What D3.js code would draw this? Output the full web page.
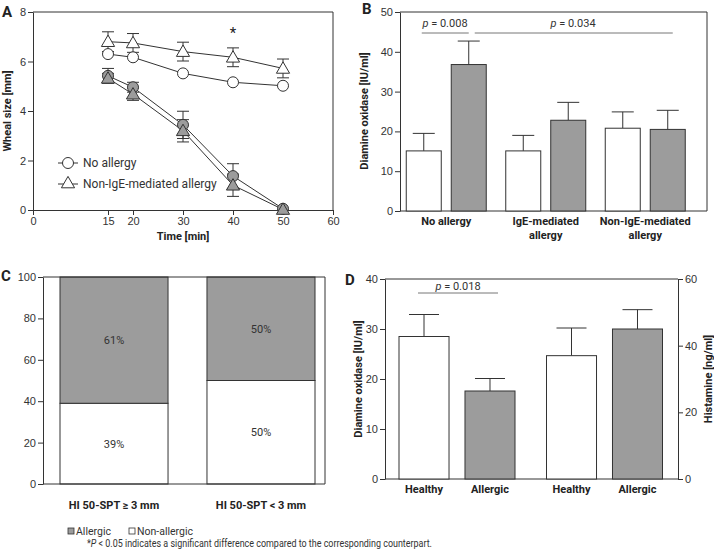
<!DOCTYPE html>
<html>
<head>
<meta charset="utf-8">
<script src="https://cdn.jsdelivr.net/npm/d3@7"></script>
<style>
html,body{margin:0;padding:0;background:#fff;}
svg{display:block;font-family:Roboto, "Noto Sans", sans-serif;}
.tick text{fill:#333;font-size:11px;}
.tick line,.domain{stroke:#333;}
</style>
</head>
<body>
<svg id="c" width="714" height="557"></svg>
<script>
// ---------- Panel A data ----------
const timesA = [15, 20, 30, 40, 50];
const xTicksA = [0, 15, 20, 30, 40, 50, 60];
const yTicksA = [0, 2, 4, 6, 8];
const noAllergyOpen = [6.3, 6.17, 5.52, 5.16, 5.02];
const noAllergyOpenErr = [0, 0, 0, 0, 0];
const nonIgEOpen = [6.8, 6.75, 6.4, 6.17, 5.72];
const nonIgEOpenErr = [0.4, 0.38, 0.38, 0.38, 0.38];
const noAllergyGray = [5.42, 4.96, 3.44, 1.37, 0.05];
const noAllergyGrayErr = [0.3, 0.2, 0.55, 0.5, 0];
const nonIgEGray = [5.32, 4.68, 3.2, 1.0, 0.02];
const nonIgEGrayErr = [0.2, 0.25, 0.45, 0.45, 0];
const legendA = ["No allergy", "Non-IgE-mediated allergy"];

// ---------- Panel B data ----------
const groupsB = ["No allergy", "IgE-mediated allergy", "Non-IgE-mediated allergy"];
const groupLabelsB = [["No allergy"], ["IgE-mediated", "allergy"], ["Non-IgE-mediated", "allergy"]];
const daoNonAllergicB = [15.1, 15.1, 20.8];
const daoNonAllergicErrB = [4.4, 3.9, 4.1];
const daoAllergicB = [36.8, 22.8, 20.5];
const daoAllergicErrB = [5.9, 4.5, 4.8];
const yTicksB = [0, 10, 20, 30, 40, 50];

// ---------- Panel C data ----------
const groupsC = ["HI 50-SPT \u2265 3 mm", "HI 50-SPT < 3 mm"];
const nonAllergicC = [39, 50];
const allergicC = [61, 50];
const yTicksC = [0, 20, 40, 60, 80, 100];

// ---------- Panel D data ----------
const measuresD = ["Diamine oxidase", "Histamine"];
const statusD = ["Healthy", "Allergic"];
const daoD = [28.5, 17.6];
const daoErrD = [4.4, 2.5];
const histamineD = [37, 45];
const histamineErrD = [8.3, 5.8];
const yTicksDLeft = [0, 10, 20, 30, 40];
const yTicksDRight = [0, 20, 40, 60];

const legendLabels = ["Allergic", "Non-allergic"];
const footnote = "P < 0.05 indicates a significant difference compared to the corresponding counterpart.";

const GRAY = "#9c9c9c";
const STROKE = "#333";
const svg = d3.select("#c");

function frame(g, x0, x1, y0, y1) {
  g.append("path").attr("d", `M${x0},${y1}H${x1}V${y0}`).attr("fill", "none").attr("stroke", STROKE);
}
function label(g, txt, x, y, opts = {}) {
  const t = g.append("text").attr("x", x).attr("y", y).text(txt)
    .attr("fill", opts.fill || "#222").attr("font-size", opts.size || 11)
    .attr("text-anchor", opts.anchor || "middle");
  if (opts.bold) t.attr("font-weight", "bold");
  if (opts.rotate) t.attr("transform", `rotate(${opts.rotate},${x},${y})`);
  return t;
}
function pText(g, val, x, y) {
  const t = g.append("text").attr("x", x).attr("y", y).attr("text-anchor", "middle")
    .attr("font-size", 11).attr("fill", "#333");
  t.append("tspan").attr("font-style", "italic").text("p");
  t.append("tspan").text(" = " + val);
}
function errBar(g, x, yv, ye, w) {
  g.append("line").attr("x1", x).attr("x2", x).attr("y1", yv).attr("y2", ye).attr("stroke", STROKE);
  g.append("line").attr("x1", x - w).attr("x2", x + w).attr("y1", ye).attr("y2", ye).attr("stroke", STROKE);
}

// ================= Panel A =================
{
  const g = svg.append("g");
  const x = d3.scaleLinear().domain([0, 60]).range([33, 333]);
  const y = d3.scaleLinear().domain([0, 8]).range([210, 12]);
  g.append("g").attr("transform", "translate(0,210)")
    .call(d3.axisBottom(x).tickValues(xTicksA).tickSize(5).tickSizeOuter(0).tickPadding(2));
  g.append("g").attr("transform", "translate(33,0)")
    .call(d3.axisLeft(y).tickValues(yTicksA).tickSize(5).tickSizeOuter(0).tickPadding(2));
  frame(g, 33, 333, 210, 12);

  const series = [
    {v: noAllergyGray, e: noAllergyGrayErr, shape: "circle", fill: GRAY, both: true},
    {v: nonIgEGray, e: nonIgEGrayErr, shape: "triangle", fill: GRAY, both: true},
    {v: noAllergyOpen, e: noAllergyOpenErr, shape: "circle", fill: "#fff", both: false},
    {v: nonIgEOpen, e: nonIgEOpenErr, shape: "triangle", fill: "#fff", both: true}
  ];
  const line = d3.line().x((d, i) => x(timesA[i])).y(d => y(d));
  series.forEach(s => {
    s.v.forEach((v, i) => {
      if (s.e[i] > 0) {
        errBar(g, x(timesA[i]), y(v), y(v + s.e[i]), 6);
        if (s.both) errBar(g, x(timesA[i]), y(v), y(Math.max(0, v - s.e[i])), 6);
      }
    });
  });
  series.forEach(s => {
    g.append("path").datum(s.v).attr("d", line).attr("fill", "none").attr("stroke", STROKE).attr("stroke-width", 1);
  });
  const tri = d3.symbol().type(d3.symbolTriangle).size(75);
  series.forEach(s => {
    s.v.forEach((v, i) => {
      if (s.shape === "circle") {
        g.append("circle").attr("cx", x(timesA[i])).attr("cy", y(v)).attr("r", 5.5)
          .attr("fill", s.fill).attr("stroke", STROKE);
      } else {
        g.append("path").attr("d", tri).attr("transform", `translate(${x(timesA[i])},${y(v) + 1})`)
          .attr("fill", s.fill).attr("stroke", STROKE);
      }
    });
  });
  label(g, "*", x(40), 38, {size: 15, fill: "#222"});
  // legend
  g.append("line").attr("x1", 58).attr("x2", 78).attr("y1", 163).attr("y2", 163).attr("stroke", STROKE);
  g.append("circle").attr("cx", 68).attr("cy", 163).attr("r", 5.5).attr("fill", "#fff").attr("stroke", STROKE);
  g.append("line").attr("x1", 58).attr("x2", 78).attr("y1", 184).attr("y2", 184).attr("stroke", STROKE);
  g.append("path").attr("d", tri).attr("transform", "translate(68,184)").attr("fill", "#fff").attr("stroke", STROKE);
  label(g, legendA[0], 83, 167, {anchor: "start", size: 12, fill: "#333"});
  label(g, legendA[1], 83, 188, {anchor: "start", size: 12, fill: "#333"});
  label(g, "Wheal size [mm]", 11, 111, {bold: true, rotate: -90});
  label(g, "Time [min]", 183, 240, {bold: true});
  label(g, "A", 2, 17, {anchor: "start", bold: true, size: 15, fill: "#222"});
}

// ================= Panel B =================
{
  const g = svg.append("g");
  const y = d3.scaleLinear().domain([0, 50]).range([211, 12]);
  const xg = d3.scaleBand().domain(groupsB).range([396.5, 695]).paddingInner(0).paddingOuter(0);
  const xi = d3.scaleBand().domain(["n", "a"]).range([9.75, 89.75]).paddingInner(0.222).paddingOuter(0);
  g.append("g").attr("transform", "translate(400,0)")
    .call(d3.axisLeft(y).tickValues(yTicksB).tickSize(5).tickSizeOuter(0).tickPadding(2));
  g.append("line").attr("x1", 400).attr("x2", 707).attr("y1", 211).attr("y2", 211).attr("stroke", STROKE);
  frame(g, 400, 707, 211, 12);
  const bw = xi.bandwidth();
  groupsB.forEach((grp, i) => {
    [["n", daoNonAllergicB, daoNonAllergicErrB, "#fff"], ["a", daoAllergicB, daoAllergicErrB, GRAY]].forEach(([k, vals, errs, fill]) => {
      const bx = xg(grp) + xi(k);
      errBar(g, bx + bw / 2, y(vals[i]), y(vals[i] + errs[i]), 11);
      g.append("rect").attr("x", bx).attr("y", y(vals[i])).attr("width", bw).attr("height", y(0) - y(vals[i]))
        .attr("fill", fill).attr("stroke", STROKE);
    });
    groupLabelsB[i].forEach((ln, j) => label(g, ln, xg(grp) + xg.bandwidth() / 2, 225 + j * 14, {bold: true}));
  });
  const cx = (grp, k) => xg(grp) + xi(k) + bw / 2;
  g.append("line").attr("x1", cx(groupsB[0], "n") - 2).attr("x2", cx(groupsB[0], "a")).attr("y1", 33).attr("y2", 33).attr("stroke", "#777");
  g.append("line").attr("x1", cx(groupsB[0], "a") + 6).attr("x2", cx(groupsB[2], "n") + 50).attr("y1", 33).attr("y2", 33).attr("stroke", "#777");
  pText(g, "0.008", 445, 27);
  pText(g, "0.034", 573, 27);
  label(g, "Diamine oxidase [IU/ml]", 368, 111, {bold: true, rotate: -90});
  label(g, "B", 362, 14, {anchor: "start", bold: true, size: 15, fill: "#222"});
}

// ================= Panel C =================
{
  const g = svg.append("g");
  const y = d3.scaleLinear().domain([0, 100]).range([484, 277]);
  const x = d3.scaleBand().domain(groupsC).range([60, 315]).paddingInner(0.265).paddingOuter(0);
  g.append("g").attr("transform", "translate(43,0)")
    .call(d3.axisLeft(y).tickValues(yTicksC).tickSize(5).tickSizeOuter(0).tickPadding(2));
  groupsC.forEach((grp, i) => {
    const bx = x(grp), w = x.bandwidth();
    g.append("rect").attr("x", bx).attr("y", y(nonAllergicC[i])).attr("width", w)
      .attr("height", y(0) - y(nonAllergicC[i])).attr("fill", "#fff").attr("stroke", STROKE);
    g.append("rect").attr("x", bx).attr("y", y(nonAllergicC[i] + allergicC[i])).attr("width", w)
      .attr("height", y(nonAllergicC[i]) - y(nonAllergicC[i] + allergicC[i])).attr("fill", GRAY).attr("stroke", STROKE);
    label(g, allergicC[i] + "%", bx + w / 2, (y(nonAllergicC[i]) + y(100)) / 2 + 4, {fill: "#333"});
    label(g, nonAllergicC[i] + "%", bx + w / 2, (y(nonAllergicC[i]) + y(0)) / 2 + 4, {fill: "#333"});
    label(g, grp, bx + w / 2, 509, {bold: true});
  });
  g.append("line").attr("x1", 43).attr("x2", 325).attr("y1", 484).attr("y2", 484).attr("stroke", STROKE);
  frame(g, 43, 325, 484, 277);
  label(g, "C", 1, 281, {anchor: "start", bold: true, size: 15, fill: "#222"});
}

// ================= Panel D =================
{
  const g = svg.append("g");
  const yL = d3.scaleLinear().domain([0, 40]).range([479, 279]);
  const yR = d3.scaleLinear().domain([0, 60]).range([479, 279]);
  const xo = d3.scaleBand().domain(measuresD).range([383, 678]);
  const xi = d3.scaleBand().domain(statusD).range([16, 132]).paddingInner(0.242).paddingOuter(0);
  g.append("g").attr("transform", "translate(385,0)")
    .call(d3.axisLeft(yL).tickValues(yTicksDLeft).tickSize(5).tickSizeOuter(0).tickPadding(2));
  g.append("g").attr("transform", "translate(678,0)")
    .call(d3.axisRight(yR).tickValues(yTicksDRight).tickSize(5).tickSizeOuter(0).tickPadding(2));
  g.append("line").attr("x1", 385).attr("x2", 678).attr("y1", 479).attr("y2", 479).attr("stroke", STROKE);
  g.append("line").attr("x1", 385).attr("x2", 678).attr("y1", 279).attr("y2", 279).attr("stroke", STROKE);
  const bw = xi.bandwidth();
  const sets = [[daoD, daoErrD, yL], [histamineD, histamineErrD, yR]];
  measuresD.forEach((m, mi) => {
    const [vals, errs, ys] = sets[mi];
    statusD.forEach((s, si) => {
      const bx = xo(m) + xi(s);
      errBar(g, bx + bw / 2, ys(vals[si]), ys(vals[si] + errs[si]), 15);
      g.append("rect").attr("x", bx).attr("y", ys(vals[si])).attr("width", bw)
        .attr("height", ys(0) - ys(vals[si])).attr("fill", si === 0 ? "#fff" : GRAY).attr("stroke", STROKE);
      label(g, s, bx + bw / 2, 493, {bold: true});
    });
  });
  g.append("line").attr("x1", 418).attr("x2", 498).attr("y1", 293).attr("y2", 293).attr("stroke", "#777");
  pText(g, "0.018", 458, 290);
  label(g, "Diamine oxidase [IU/ml]", 362, 379, {bold: true, rotate: -90});
  label(g, "Histamine [ng/ml]", 712, 379, {bold: true, rotate: -90});
  label(g, "D", 345, 285, {anchor: "start", bold: true, size: 15, fill: "#222"});
}

// ================= Legend & footnote =================
{
  const g = svg.append("g");
  g.append("rect").attr("x", 68).attr("y", 528).attr("width", 6).attr("height", 6).attr("fill", GRAY).attr("stroke", STROKE).attr("stroke-width", 0.8);
  label(g, legendLabels[0], 76, 535, {anchor: "start", size: 10.5, fill: "#333"});
  g.append("rect").attr("x", 129).attr("y", 528).attr("width", 6).attr("height", 6).attr("fill", "#fff").attr("stroke", STROKE).attr("stroke-width", 0.8);
  label(g, legendLabels[1], 137, 535, {anchor: "start", size: 10.5, fill: "#333"});
  const t = g.append("text").attr("x", 87).attr("y", 547).attr("font-size", 10.5).attr("fill", "#333")
    .attr("textLength", 345).attr("lengthAdjust", "spacingAndGlyphs");
  t.append("tspan").text("*");
  t.append("tspan").attr("font-style", "italic").text("P");
  t.append("tspan").text(footnote.slice(1));
}
</script>
</body>
</html>
